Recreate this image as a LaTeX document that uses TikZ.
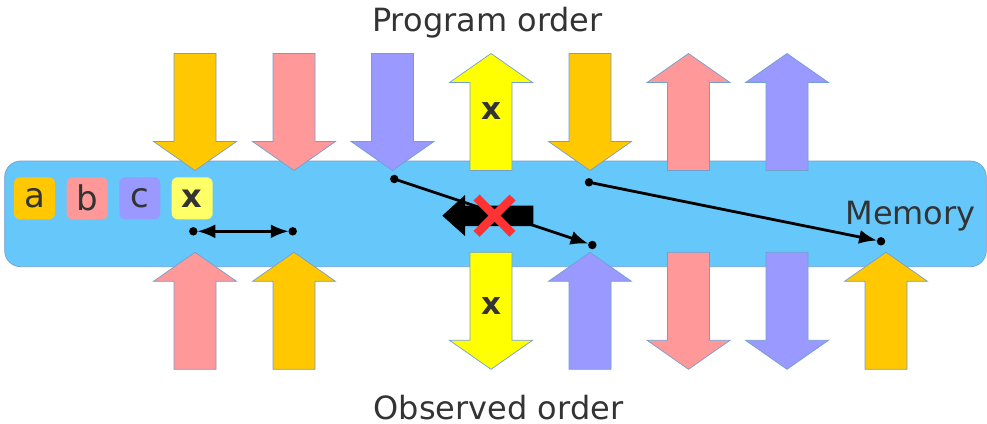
\documentclass[tikz,border=0pt]{standalone}
\usepackage{fontspec}
\setmainfont{DejaVu Sans}
\usetikzlibrary{arrows.meta}
\definecolor{orng}{RGB}{255,200,0}
\definecolor{pnk}{RGB}{255,153,153}
\definecolor{prpl}{RGB}{153,153,255}
\definecolor{ylw}{RGB}{255,255,0}
\definecolor{lylw}{RGB}{255,255,102}
\definecolor{mem}{RGB}{102,200,250}
\definecolor{edge}{RGB}{114,159,207}
\definecolor{ink}{RGB}{51,51,51}
\definecolor{cross}{RGB}{255,51,51}
\begin{document}
\begin{tikzpicture}[x=1pt,y=-1pt,
  blockarr/.style={draw=edge,line width=0.7pt,line join=miter},
  tag/.style={rounded corners=6pt,minimum width=41pt,minimum height=42pt,inner sep=0pt,
    text=ink,font=\fontsize{34}{40}\selectfont},
  bigtext/.style={text=ink,font=\fontsize{32}{38}\selectfont,anchor=base,inner sep=0pt},
  xmark/.style={text=ink,font=\fontsize{31}{36}\selectfont\bfseries,inner sep=0pt},
  dot/.style={circle,fill=black,inner sep=0pt,minimum size=8.5pt},
  conn/.style={line width=2.8pt,draw=black,shorten >=-0.5pt,shorten <=-0.5pt},
  tipstyle/.style={-{Latex[length=18pt,width=14pt]}},
  uparr/.pic={\path[pic actions] (0,-58.5) -- (41.5,-29.5) -- (21,-29.5) -- (21,58.5)
     -- (-21,58.5) -- (-21,-29.5) -- (-41.5,-29.5) -- cycle;},
  downarr/.pic={\path[pic actions] (0,58.5) -- (41.5,29.5) -- (21,29.5) -- (21,-58.5)
     -- (-21,-58.5) -- (-21,29.5) -- (-41.5,29.5) -- cycle;}
]
\useasboundingbox (0,0) rectangle (987,423);

% memory band
\path[fill=mem,draw=edge,line width=0.7pt,rounded corners=16pt] (4.7,161) rectangle (986.3,266.7);

% legend tags
\node[tag,fill=orng] (ta) at (34.5,198.3) {a};
\node[tag,fill=pnk]  (tb) at (87.2,198.3) {b};
\node[tag,fill=prpl] (tc) at (139.8,198.3) {c};
\node[tag,fill=lylw,font=\fontsize{32}{38}\selectfont\bfseries] (tx) at (192.2,198.3) {x};

% program order (top row)
\pic[blockarr,fill=orng] (p1) at (195,112) {downarr};
\pic[blockarr,fill=pnk]  (p2) at (294,112) {downarr};
\pic[blockarr,fill=prpl] (p3) at (392.5,112) {downarr};
\pic[blockarr,fill=ylw]  (p4) at (491,112) {uparr};
\pic[blockarr,fill=orng] (p5) at (590,112) {downarr};
\pic[blockarr,fill=pnk]  (p6) at (688.5,112) {uparr};
\pic[blockarr,fill=prpl] (p7) at (787,112) {uparr};
\node[xmark] (px) at (491,111.5) {x};

% observed order (bottom row)
\pic[blockarr,fill=pnk]  (o1) at (195,310.8) {uparr};
\pic[blockarr,fill=orng] (o2) at (294,310.8) {uparr};
\pic[blockarr,fill=ylw]  (o3) at (491,310.8) {downarr};
\pic[blockarr,fill=prpl] (o4) at (590,310.8) {uparr};
\pic[blockarr,fill=pnk]  (o5) at (688.5,310.8) {downarr};
\pic[blockarr,fill=prpl] (o6) at (787,310.8) {downarr};
\pic[blockarr,fill=orng] (o7) at (886,310.8) {uparr};
\node[xmark] (ox) at (491,306.5) {x};

% end points of the orderings
\node[dot] (s1) at (193.3,231.3) {};
\node[dot] (e1) at (292.7,231.3) {};
\node[dot] (s2) at (394.3,179) {};
\node[dot] (e2) at (592.3,245) {};
\node[dot] (s3) at (589,182.3) {};
\node[dot] (e3) at (881,241.3) {};

\draw[conn,{Latex[length=18pt,width=14pt]}-{Latex[length=18pt,width=14pt]}] (s1) -- (e1);
\draw[conn,tipstyle] (s2) -- (e2);
\draw[conn,tipstyle] (s3) -- (e3);

% forbidden reordering
\fill[black] (442.3,215.7) -- (465,195) -- (465,205.7) -- (533.3,205.7)
  -- (533.3,226) -- (465,226) -- (465,236) -- cycle;
\coordinate (xa) at (476.5,197.5);
\coordinate (xb) at (512.5,233.8);
\coordinate (xc) at (476.5,233.8);
\coordinate (xd) at (512.5,197.5);
\draw[cross,line width=8.5pt] (xa) -- (xb) (xc) -- (xd);

% labels
\node[bigtext] (prog) at (487.5,31.7) {Program order};
\node[bigtext] (obs) at (498.5,419.3) {Observed order};
\node[bigtext] (memory) at (910.5,224.6) {Memory};
\end{tikzpicture}
\end{document}
